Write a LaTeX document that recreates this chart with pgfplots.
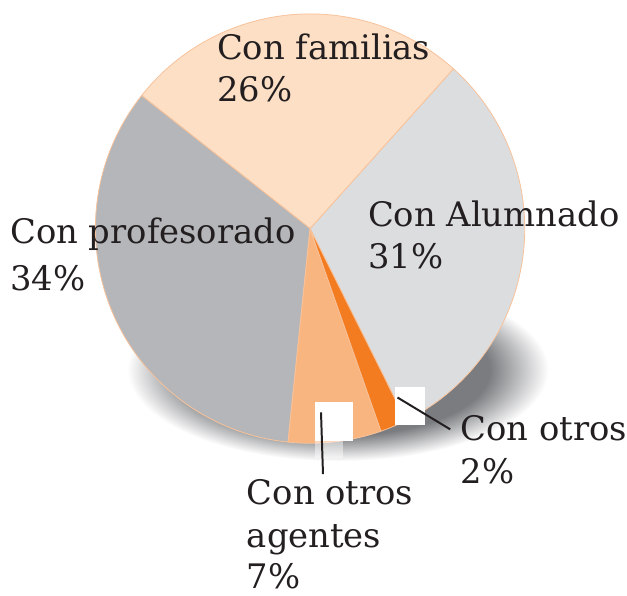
\documentclass[border=0pt]{standalone}
\usepackage{pgfplots}
\pgfplotsset{compat=1.18}
\usepackage{fontspec}
\setmainfont{DejaVu Serif}
\definecolor{alumc}{RGB}{220,221,223}
\definecolor{famc}{RGB}{253,223,197}
\definecolor{profc}{RGB}{181,182,185}
\definecolor{agenc}{RGB}{249,181,128}
\definecolor{otrosc}{RGB}{243,123,32}
\definecolor{edgec}{RGB}{248,194,154}
\definecolor{txtc}{RGB}{35,31,32}
\definecolor{shadowc}{RGB}{122,124,127}
\pgfdeclareradialshading{pieshadow}{\pgfpoint{0bp}{0bp}}{color(0bp)=(shadowc); color(18bp)=(shadowc); color(25bp)=(white); color(50bp)=(white)}
% data (percent)
\def\pA{31}% Con Alumnado
\def\pF{26}% Con familias
\def\pP{34}% Con profesorado
\def\pG{7}%  Con otros agentes
\def\pO{2}%  Con otros
\pgfmathsetmacro\aZero{-63.5}
\pgfmathsetmacro\aA{\aZero+3.6*\pA}
\pgfmathsetmacro\aF{\aA+3.6*\pF}
\pgfmathsetmacro\aP{\aF+3.6*\pP}
\pgfmathsetmacro\aG{\aP+3.6*\pG}
\pgfmathsetmacro\aO{\aG+3.6*\pO}
\newcommand\piewedge[3]{% color, start, end
  \filldraw[fill=#1, draw=edgec, line width=0.4pt] (axis cs:312,369) -- (axis cs:{312+216*cos(#2)},{369+216*sin(#2)}) arc[start angle=#2, end angle=#3, radius=108pt] -- cycle;}
\begin{document}
\begin{tikzpicture}
\begin{axis}[
  width=313.5pt, height=299.5pt, scale only axis,
  xmin=0, xmax=627, ymin=0, ymax=599,
  enlargelimits=false, hide axis, clip=false]
\draw[draw=none] (rel axis cs:0,0) rectangle (rel axis cs:1,1);
% shadow
\shade[shading=pieshadow] (axis cs:340,227) ellipse [x radius=106pt, y radius=46pt];
% wedges
\piewedge{alumc}{\aZero}{\aA}
\piewedge{famc}{\aA}{\aF}
\piewedge{profc}{\aF}{\aP}
\piewedge{agenc}{\aP}{\aG}
\piewedge{otrosc}{\aG}{\aO}
% white label boxes
\fill[white] (axis cs:317,194) rectangle (axis cs:355,155);
\fill[white, opacity=0.45] (axis cs:317,155) rectangle (axis cs:345,138);
\fill[white] (axis cs:397,210) rectangle (axis cs:428,171);
% leader lines
\draw[txtc, line width=1pt] (axis cs:323,184) -- (axis cs:325,122);
\draw[txtc, line width=1pt] (axis cs:400,199) -- (axis cs:453,167);
% labels
\begin{scope}[every node/.style={text=txtc, font=\fontsize{17}{21}\selectfont, inner sep=0pt, anchor=base west}]
\node at (axis cs:218,539) {Con familias};
\node at (axis cs:218,497) {26\%};
\node at (axis cs:10,354) {Con profesorado};
\node at (axis cs:10,307) {34\%};
\node at (axis cs:370,371) {Con Alumnado};
\node at (axis cs:370,329) {31\%};
\node at (axis cs:463,156) {Con otros};
\node at (axis cs:463,112) {2\%};
\node at (axis cs:248,91) {Con otros};
\node at (axis cs:248,48) {agentes};
\node at (axis cs:248,7) {7\%};
\end{scope}
\end{axis}
\end{tikzpicture}
\end{document}
